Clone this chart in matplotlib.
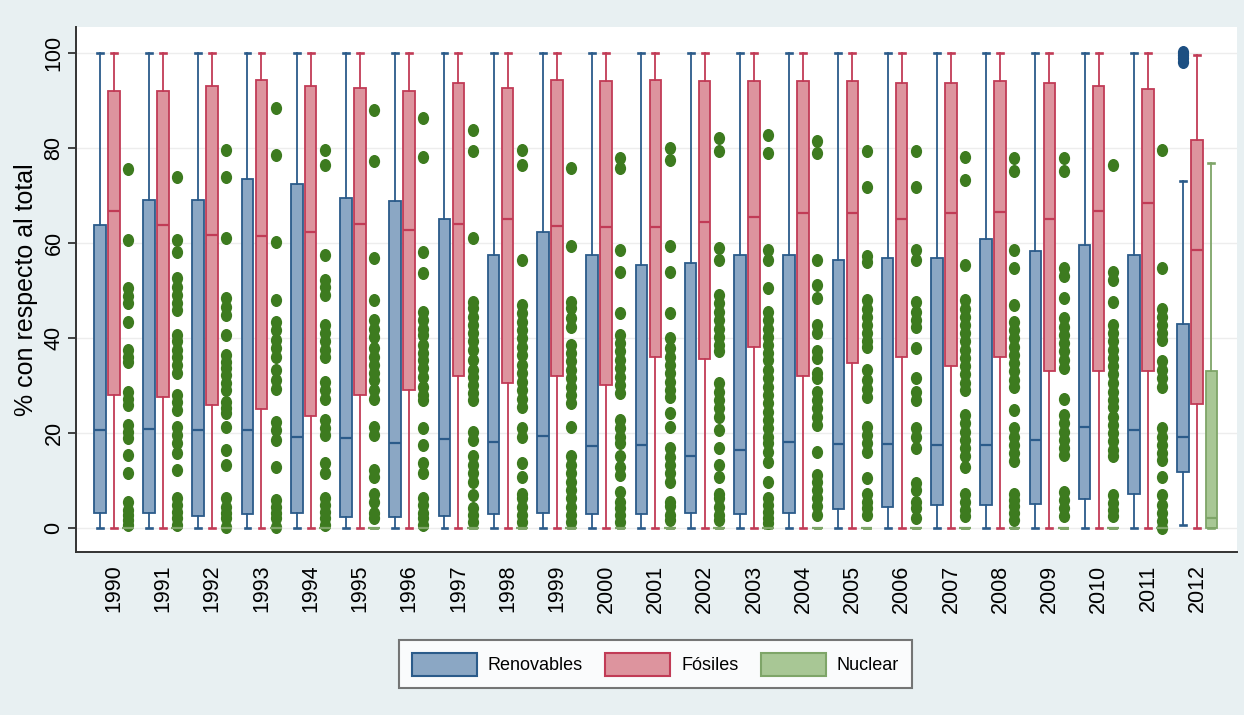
import matplotlib
matplotlib.use("Agg")
import matplotlib.pyplot as plt
from matplotlib.patches import Patch
from matplotlib.path import Path
from matplotlib.transforms import Affine2D

plt.rcParams['font.family'] = ['Liberation Sans', 'DejaVu Sans']

years = list(range(1990, 2013))

# Renovables: box statistics per year
ren_lo = [0.0] * 22 + [0.5]
ren_q1 = [3.0, 3.0, 2.5, 2.8, 3.0, 2.2, 2.2, 2.5, 2.8, 3.0, 2.8, 2.8, 3.0, 2.8, 3.0, 4.0,
          4.3, 4.8, 4.8, 5.0, 6.0, 7.0, 11.7]
ren_med = [20.5, 20.7, 20.5, 20.5, 19.0, 18.8, 17.8, 18.7, 18.0, 19.3, 17.3, 17.5, 15.2,
           16.3, 18.0, 17.6, 17.6, 17.4, 17.5, 18.5, 21.2, 20.6, 19.0]
ren_q3 = [63.8, 69.0, 69.0, 73.5, 72.3, 69.4, 68.7, 65.0, 57.5, 62.3, 57.5, 55.3, 55.7,
          57.5, 57.3, 56.4, 56.8, 56.8, 60.8, 58.2, 59.6, 57.5, 42.8]
ren_hi = [100.0] * 22 + [73.0]
ren_out_2012 = [100.2, 99.5, 98.8, 98.1]

# Fósiles: box statistics per year
fos_lo = [0.0] * 23
fos_q1 = [28.0, 27.5, 25.8, 25.0, 23.5, 28.0, 29.0, 32.0, 30.5, 32.0, 30.0, 36.0, 35.5,
          38.0, 32.0, 34.6, 36.0, 34.0, 36.0, 33.0, 33.0, 33.0, 26.0]
fos_med = [66.6, 63.7, 61.7, 61.5, 62.3, 64.0, 62.6, 64.0, 65.0, 63.5, 63.2, 63.2, 64.3,
           65.3, 66.3, 66.2, 65.0, 66.3, 66.5, 65.0, 66.7, 68.4, 58.5]
fos_q3 = [92.0, 92.0, 93.0, 94.2, 93.0, 92.6, 92.0, 93.5, 92.6, 94.2, 94.0, 94.2, 94.0,
          94.0, 94.0, 94.0, 93.6, 93.6, 94.0, 93.6, 93.0, 92.3, 81.7]
fos_hi = [100.0] * 22 + [99.5]

# Nuclear: box statistics per year (collapsed at zero until 2012)
nuc_lo = [0.0] * 23
nuc_q1 = [0.0] * 23
nuc_med = [0.0] * 22 + [2.0]
nuc_q3 = [0.0] * 22 + [33.0]
nuc_hi = [0.0] * 22 + [76.7]

# Nuclear outside values, one list per year
nuc_out = [
    [75.5, 60.6, 50.4, 48.7, 47.2, 43.4, 37.4, 36.0, 34.9, 28.6, 27.2, 25.8, 21.6, 20.2,
     18.8, 15.3, 11.5, 5.5, 3.7, 2.7, 1.6, 0.6],
    [73.8, 60.6, 58.1, 52.5, 50.7, 49.0, 47.2, 45.8, 40.6, 39.2, 37.4, 36.0, 34.3, 32.5,
     27.9, 26.5, 24.8, 21.3, 19.5, 17.8, 15.7, 12.1, 6.2, 4.8, 3.4, 2.0, 0.6],
    [79.5, 73.9, 60.9, 48.3, 46.5, 44.8, 40.6, 36.4, 34.9, 33.6, 32.1, 30.4, 29.0, 26.5,
     25.1, 24.1, 21.3, 16.4, 13.2, 6.2, 4.4, 3.0, 2.0, 0.2],
    [88.3, 78.5, 60.2, 47.9, 43.4, 41.6, 39.5, 37.8, 36.0, 33.2, 31.1, 29.3, 22.3, 20.6,
     18.5, 12.8, 5.8, 4.4, 3.0, 2.0, 0.2],
    [79.5, 76.4, 57.4, 52.1, 50.7, 49.0, 42.7, 40.9, 39.2, 37.4, 36.0, 30.7, 29.0, 27.2,
     22.7, 20.9, 19.5, 13.6, 11.5, 6.2, 4.8, 3.4, 2.0, 0.6],
    [87.9, 77.1, 56.7, 47.9, 43.7, 41.9, 40.2, 37.8, 36.0, 34.3, 32.5, 31.1, 29.0, 27.2,
     21.3, 19.5, 12.1, 10.7, 7.2, 5.5, 3.0, 2.0],
    [86.2, 78.1, 58.1, 53.6, 45.5, 43.7, 41.9, 40.6, 38.5, 36.7, 35.3, 33.6, 31.8, 29.7,
     27.9, 26.9, 20.9, 17.4, 13.6, 11.5, 6.2, 4.8, 3.0, 2.0, 0.6],
    [83.7, 79.2, 60.9, 47.6, 46.2, 44.4, 42.7, 40.9, 39.2, 37.4, 35.3, 33.2, 31.8, 30.0,
     28.3, 26.9, 20.2, 18.5, 15.0, 13.2, 11.5, 9.7, 6.9, 4.1, 2.7, 1.3],
    [79.5, 76.4, 56.4, 46.9, 45.1, 43.4, 41.6, 39.9, 38.1, 36.4, 34.3, 32.5, 30.7, 29.0,
     27.2, 25.5, 20.9, 19.2, 13.6, 10.7, 7.2, 6.2, 4.4, 2.7, 1.3],
    [75.7, 59.2, 47.6, 46.2, 44.1, 42.3, 38.5, 36.7, 35.0, 33.2, 31.5, 29.7, 28.0, 26.2,
     21.3, 15.0, 13.2, 11.5, 9.7, 7.9, 6.2, 4.4, 2.7, 1.3],
    [77.8, 75.7, 58.5, 53.9, 45.1, 40.6, 38.8, 37.1, 35.3, 33.6, 31.8, 30.0, 28.3, 22.7,
     20.9, 19.2, 17.8, 15.0, 12.8, 11.1, 7.5, 5.5, 4.1, 2.7, 1.3],
    [79.9, 77.4, 59.2, 53.9, 45.1, 39.9, 37.8, 36.0, 34.3, 32.5, 30.7, 29.0, 27.6, 24.1,
     21.3, 16.7, 14.9, 13.2, 11.5, 9.7, 5.5, 4.5, 2.7, 1.6],
    [82.0, 79.2, 58.8, 56.4, 49.0, 47.2, 45.5, 43.7, 41.9, 40.2, 38.5, 37.1, 30.4, 28.6,
     26.9, 25.1, 23.4, 20.6, 16.7, 13.2, 10.7, 7.2, 6.2, 4.4, 2.7, 1.6],
    [82.7, 78.8, 58.5, 56.4, 50.4, 45.5, 43.7, 41.9, 40.2, 38.5, 36.7, 35.3, 33.3, 31.5,
     29.7, 28.0, 26.2, 24.4, 22.7, 20.9, 19.2, 17.8, 16.0, 13.9, 9.7, 6.2, 4.8, 3.4, 2.0,
     1.0],
    [81.3, 78.8, 56.4, 51.1, 48.3, 42.7, 40.9, 37.1, 35.7, 32.5, 31.5, 28.6, 26.9, 25.1,
     23.4, 21.6, 16.0, 11.1, 9.7, 7.9, 6.2, 4.5, 2.7],
    [79.2, 71.8, 57.1, 55.9, 47.9, 46.1, 44.4, 42.7, 40.9, 39.2, 38.1, 33.2, 31.1, 29.3,
     27.6, 21.3, 19.5, 17.8, 16.0, 10.4, 7.2, 5.5, 4.1, 2.7],
    [79.2, 71.8, 58.5, 56.4, 47.5, 45.5, 43.7, 42.3, 37.8, 31.5, 28.6, 26.9, 20.9, 19.2,
     16.7, 9.4, 7.9, 5.5, 4.1, 2.0],
    [78.1, 73.2, 55.3, 47.9, 46.1, 44.4, 42.7, 40.9, 39.2, 37.4, 35.7, 34.0, 32.3, 30.4,
     29.0, 23.7, 22.0, 20.2, 18.5, 16.7, 15.0, 12.8, 7.2, 5.5, 3.8, 2.4],
    [77.8, 75.0, 58.5, 54.6, 46.9, 43.4, 41.6, 39.9, 38.1, 36.4, 34.6, 32.9, 31.1, 29.7,
     24.8, 20.9, 19.2, 17.5, 15.7, 14.0, 7.2, 5.9, 4.5, 3.1, 1.7],
    [77.8, 75.0, 54.6, 53.0, 48.3, 44.1, 42.3, 40.6, 38.8, 37.1, 35.3, 33.6, 27.2, 23.7,
     22.0, 20.2, 18.5, 16.7, 15.4, 7.5, 5.9, 4.1, 2.4],
    [76.4, 53.9, 52.1, 47.6, 42.7, 40.9, 39.2, 37.4, 35.7, 34.0, 32.3, 30.4, 28.6, 26.9,
     25.5, 23.4, 21.6, 19.9, 18.2, 16.4, 15.0, 6.9, 5.2, 3.8, 2.4],
    [79.5, 54.6, 46.1, 44.4, 42.7, 40.9, 39.5, 35.0, 33.2, 31.5, 29.7, 20.9, 19.2, 17.5,
     15.7, 14.3, 10.7, 6.9, 4.8, 3.1, 1.4, 0.0],
    [],
]

series = ['Renovables', 'Fósiles', 'Nuclear']
edge_colors = ['#2b5b8a', '#c13b56', '#7ea568']
fill_colors = ['#8ba7c4', '#dd949e', '#a8c795']
flier_colors = ['#1d4f82', '#c13b56', '#3d7b1f']

# slightly tall oval marker for outside values
oval = Path.unit_circle().transformed(Affine2D().scale(0.86, 1.0))

BG = '#e8f0f2'
fig = plt.figure(figsize=(12.44, 7.15), dpi=100, facecolor=BG)
ax = fig.add_axes([0.0607, 0.228, 0.9337, 0.7343])
ax.set_facecolor('white')


def stats_for(lo, q1, med, q3, hi, outs):
    return [dict(whislo=lo[i], q1=q1[i], med=med[i], q3=q3[i], whishi=hi[i],
                 fliers=outs[i]) for i in range(len(years))]


ren_outs = [[] for _ in years]
ren_outs[-1] = ren_out_2012
fos_outs = [[] for _ in years]

groups = [
    stats_for(ren_lo, ren_q1, ren_med, ren_q3, ren_hi, ren_outs),
    stats_for(fos_lo, fos_q1, fos_med, fos_q3, fos_hi, fos_outs),
    stats_for(nuc_lo, nuc_q1, nuc_med, nuc_q3, nuc_hi, nuc_out),
]
offsets = [-0.284, 0.0, 0.29]
box_w = 0.235
lw = 1.3

for k, st in enumerate(groups):
    pos = [i + offsets[k] for i in range(len(years))]
    ec = edge_colors[k]
    ax.bxp(st, positions=pos, widths=box_w, patch_artist=True, manage_ticks=False,
           capwidths=0.12,
           boxprops=dict(facecolor=fill_colors[k], edgecolor=ec, linewidth=lw),
           medianprops=dict(color=ec, linewidth=lw + 0.3),
           whiskerprops=dict(color=ec, linewidth=lw),
           capprops=dict(color=ec, linewidth=lw + 0.6),
           flierprops=dict(marker=oval, markerfacecolor=flier_colors[k],
                           markeredgecolor=flier_colors[k], markeredgewidth=0,
                           markersize=9.4, linestyle='none'))

ax.set_xlim(-0.776, 22.81)
ax.set_ylim(-5.1, 105.4)
ax.set_yticks([0, 20, 40, 60, 80, 100])
ax.set_yticklabels(['0', '20', '40', '60', '80', '100'], rotation=90, va='center',
                   fontsize=15.5)
ax.set_xticks(range(len(years)))
ax.set_xticklabels([str(y) for y in years], rotation=90, fontsize=15.5, va='top',
                   ha='center')
ax.tick_params(axis='x', length=0, pad=9)
ax.tick_params(axis='y', length=6, width=1.3, color='#333333', pad=2)
ax.set_ylabel('% con respecto al total', fontsize=18, labelpad=4)
ax.yaxis.grid(True, color='#ededed', linewidth=1.0)
ax.set_axisbelow(True)
for s in ['top', 'right']:
    ax.spines[s].set_visible(False)
for s in ['left', 'bottom']:
    ax.spines[s].set_color('#333333')
    ax.spines[s].set_linewidth(1.4)

handles = [Patch(facecolor=fill_colors[k], edgecolor=edge_colors[k], linewidth=1.5,
                 label=series[k]) for k in range(3)]
leg = fig.legend(handles=handles, loc='center', bbox_to_anchor=(0.527, 0.071), ncol=3,
                 frameon=True, fancybox=False, edgecolor='#555555', fontsize=13,
                 handlelength=3.6, handleheight=1.55, handletextpad=0.6,
                 columnspacing=1.25, borderpad=0.7)
leg.get_frame().set_linewidth(1.5)
leg.get_frame().set_facecolor('white')

fig.savefig('out.png', dpi=100, facecolor=BG)
